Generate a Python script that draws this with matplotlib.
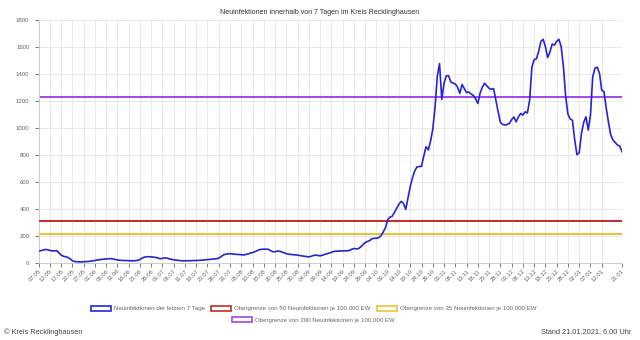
import matplotlib.pyplot as plt
import numpy as np
import pandas as pd
from matplotlib.patches import Patch

plt.rcParams['font.family'] = ['Liberation Sans', 'DejaVu Sans']

# Zeitraum (täglich)
start_date = '2020-05-07'
end_date = '2021-01-21'

# Neuinfektionen der letzten 7 Tage
inzidenz_7tage = [
    87, 90, 94, 99, 97, 92, 88, 89, 90, 75, 58, 49, 45, 40, 30, 15, 10, 8, 7, 7,
    8, 9, 10, 12, 15, 17, 20, 23, 25, 27, 29, 30, 31, 29, 25, 21, 19, 18, 17, 17,
    16, 15, 15, 16, 18, 25, 35, 42, 45, 45, 44, 42, 40, 35, 30, 33, 37, 35, 30, 26,
    22, 20, 18, 16, 15, 15, 15, 16, 16, 17, 17, 18, 19, 20, 22, 24, 25, 27, 29, 30,
    35, 45, 58, 64, 66, 68, 66, 64, 62, 62, 60, 58, 62, 66, 72, 76, 82, 90, 97, 100,
    101, 101, 100, 90, 82, 82, 86, 86, 80, 74, 68, 64, 62, 60, 59, 57, 54, 51, 49, 46,
    44, 48, 54, 57, 54, 52, 56, 62, 67, 72, 78, 84, 86, 87, 88, 88, 89, 89, 92, 100,
    106, 103, 105, 117, 135, 150, 158, 165, 178, 182, 182, 186, 200, 228, 260, 320, 338, 345, 375, 405,
    435, 455, 440, 395, 480, 565, 630, 680, 711, 712, 715, 790, 860, 835, 900, 990, 1150, 1380, 1475, 1210,
    1330, 1385, 1385, 1340, 1330, 1325, 1300, 1255, 1320, 1290, 1260, 1265, 1250, 1240, 1215, 1180, 1255, 1300, 1330, 1310,
    1292, 1285, 1290, 1205, 1120, 1040, 1025, 1020, 1025, 1032, 1060, 1080, 1044, 1080, 1106, 1094, 1118, 1110, 1205, 1450,
    1505, 1510, 1565, 1640, 1655, 1600, 1520, 1560, 1620, 1612, 1640, 1655, 1600, 1450, 1230, 1100, 1065, 1055, 910, 800,
    815, 958, 1040, 1081, 983, 1094, 1378, 1440, 1449, 1403, 1279, 1267, 1144, 1040, 946, 909, 890, 872, 865, 822,
]

# Obergrenzen je 100.000 EW
grenze_50 = 307
grenze_35 = 215
grenze_200 = 1230

y_ticks = [0, 200, 400, 600, 800, 1000, 1200, 1400, 1600, 1800]

labels = ['Neuinfektionen der letzten 7 Tage',
          'Obergrenze von 50 Neuinfektionen je 100.000 EW',
          'Obergrenze von 35 Neuinfektionen je 100.000 EW',
          'Obergrenze von 200 Neuinfektionen je 100.000 EW']
farben = ['#2424d8', '#c62a2a', '#f2c02e', '#a545e8']

dates = pd.date_range(start_date, end_date, freq='D')
x = np.arange(len(dates))

fig = plt.figure(figsize=(6.4, 3.4), dpi=100)
ax = fig.add_axes([0.0602, 0.227, 0.9117, 0.715])

ax.plot(x, inzidenz_7tage, color=farben[0], lw=1.2, zorder=5)
ax.plot(x, [grenze_50] * len(x), color=farben[1], lw=1.4, zorder=4)
ax.plot(x, [grenze_35] * len(x), color=farben[2], lw=1.4, zorder=3)
ax.plot(x, [grenze_200] * len(x), color=farben[3], lw=1.4, zorder=2)

# x-Achse: alle 5 Tage + letzter Tag
tick_pos = list(range(0, len(x) - 5, 5)) + [len(x) - 1]
ax.set_xticks(tick_pos)
ax.set_xticklabels([dates[i].strftime('%d.%m') for i in tick_pos],
                   rotation=45, ha='right', rotation_mode='anchor')
ax.set_yticks(y_ticks)
ax.set_xlim(0, len(x) - 1)
ax.set_ylim(0, 1800)

ax.grid(True, color='#e9e9e9', lw=0.7)
ax.set_axisbelow(True)
ax.tick_params(labelsize=4.3, colors='#666666', length=3, width=0.6)
ax.tick_params(axis='x', pad=1)
for s in ['top', 'right']:
    ax.spines[s].set_visible(False)
for s in ['left', 'bottom']:
    ax.spines[s].set_color('#cccccc')
    ax.spines[s].set_linewidth(0.7)

fig.text(0.5, 1 - 12 / 340, 'Neuinfektionen innerhalb von 7 Tagen im Kreis Recklinghausen',
         ha='center', va='center', fontsize=5, color='#333333')

handles = [Patch(facecolor=(1, 1, 1, 0), edgecolor=c, lw=1.2) for c in farben]
leg1 = fig.legend(handles[:3], labels[:3], ncol=3, loc='center',
                  bbox_to_anchor=(0.49, 1 - 308.5 / 340), frameon=False,
                  fontsize=4.4, handlelength=3.3, handleheight=1.0,
                  handletextpad=0.5, columnspacing=1.0, labelcolor='#666666')
leg2 = fig.legend(handles[3:], labels[3:], loc='center',
                  bbox_to_anchor=(0.49, 1 - 319.7 / 340), frameon=False,
                  fontsize=4.4, handlelength=3.3, handleheight=1.0,
                  handletextpad=0.5, labelcolor='#666666')

fig.text(0.006, 1 - 332 / 340, '\u00a9 Kreis Recklinghausen', ha='left', va='center',
         fontsize=5.3, color='#444444')
fig.text(0.986, 1 - 332 / 340, 'Stand 21.01.2021, 6.00 Uhr', ha='right', va='center',
         fontsize=5.3, color='#444444')

fig.savefig('out.png', dpi=100)
